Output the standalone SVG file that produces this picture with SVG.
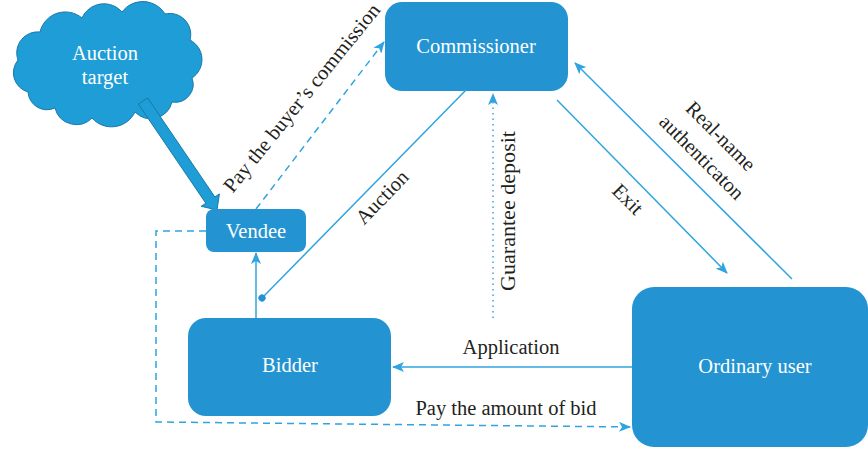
<svg xmlns="http://www.w3.org/2000/svg" width="868" height="449" viewBox="0 0 868 449">
  <style>
    .node { fill: #2394d1; }
    .ntext { fill: #ffffff; font-family: "Liberation Serif", "DejaVu Serif", serif; font-size: 20.5px; text-anchor: middle; }
    .label { fill: #231f20; font-family: "Liberation Serif", "DejaVu Serif", serif; font-size: 20.5px; text-anchor: middle; }
    .conn { fill: none; stroke: #2fa4e0; stroke-width: 1.5; }
    .dash { stroke-dasharray: 7 5; }
    .dot { stroke-dasharray: 1.5 4; }
  </style>
  <defs>
    <marker id="arrow" viewBox="0 0 12 10" refX="11" refY="5" markerWidth="12" markerHeight="10" markerUnits="userSpaceOnUse" orient="auto">
      <path d="M0,0 L12,5 L0,10 L3,5 Z" fill="#2fa4e0"/>
    </marker>
    <marker id="dotend" viewBox="0 0 8 8" refX="4" refY="4" markerWidth="8" markerHeight="8" markerUnits="userSpaceOnUse" orient="auto">
      <circle cx="4" cy="4" r="3.6" fill="#2294d1"/>
    </marker>
  </defs>

  <!-- Auction target cloud with its thick arrow -->
  <g id="auction-target">
    <path d="M28,92 A20,20 0 0 1 18,60 A21,21 0 0 1 40,32 A26,26 0 0 1 82,18 A24,24 0 0 1 122,12 A26,26 0 0 1 165,14 A21,21 0 0 1 190,40 A22,22 0 0 1 192,78 A18,18 0 0 1 172,102 A22,22 0 0 1 135,112 A26,26 0 0 1 92,118 A22,22 0 0 1 55,108 A19,19 0 0 1 28,92 Z" fill="#1f9dd7" stroke="#1a78a8" stroke-width="1"/>
    <text class="ntext" x="105" y="60">Auction</text>
    <text class="ntext" x="105" y="84">target</text>
    <polygon points="138.4,104.1 147.6,97.9 214.9,197 219.4,193.9 217,210 201.2,206.3 205.8,203.2" fill="#1f9dd7" stroke="#1a78a8" stroke-width="1"/>
  </g>

  <g id="commissioner">
    <rect class="node" x="385" y="2" width="183" height="89" rx="17"/>
    <text class="ntext" x="476" y="53">Commissioner</text>
  </g>

  <g id="vendee">
    <rect class="node" x="206" y="209" width="100" height="43" rx="8"/>
    <text class="ntext" x="256" y="238">Vendee</text>
  </g>

  <g id="bidder">
    <rect class="node" x="188" y="318" width="203" height="98" rx="18"/>
    <text class="ntext" x="290" y="372">Bidder</text>
  </g>

  <g id="ordinary-user">
    <rect class="node" x="632" y="287" width="236" height="160" rx="22"/>
    <text class="ntext" x="755" y="373">Ordinary user</text>
  </g>

  <g id="connectors">
    <!-- vendee pays commission -->
    <path class="conn dash" d="M256,209 L384,42" marker-end="url(#arrow)"/>
    <!-- auction from commissioner to bidder -->
    <path class="conn" d="M466,90 L262,298" marker-end="url(#dotend)"/>
    <!-- bidder to vendee -->
    <path class="conn" d="M256,318 L256,253" marker-end="url(#arrow)"/>
    <!-- guarantee deposit -->
    <path class="conn dot" d="M493,318 L493,94" marker-end="url(#arrow)"/>
    <!-- exit -->
    <path class="conn" d="M557,100 L727,273" marker-end="url(#arrow)"/>
    <!-- real-name authentication -->
    <path class="conn" d="M792,279 L575,63" marker-end="url(#arrow)"/>
    <!-- application -->
    <path class="conn" d="M632,367 L393,367" marker-end="url(#arrow)"/>
    <!-- pay the amount of bid -->
    <path class="conn dash" d="M206,231 L156,231 L156,422 L630,427" marker-end="url(#arrow)"/>

    <text class="label" transform="translate(307,102) rotate(-51)" textLength="236" lengthAdjust="spacingAndGlyphs">Pay the buyer’s commission</text>
    <text class="label" transform="translate(387,202) rotate(-46)">Auction</text>
    <text class="label" transform="translate(515,211) rotate(-90)" textLength="160" lengthAdjust="spacingAndGlyphs">Guarantee deposit</text>
    <text class="label" transform="translate(623,204) rotate(45)">Exit</text>
    <text class="label" transform="translate(716,141) rotate(45)">Real-name</text>
    <text class="label" transform="translate(697,162) rotate(45)">authenticaton</text>
    <text class="label" x="511" y="354">Application</text>
    <text class="label" x="506" y="415">Pay the amount of bid</text>
  </g>
</svg>
